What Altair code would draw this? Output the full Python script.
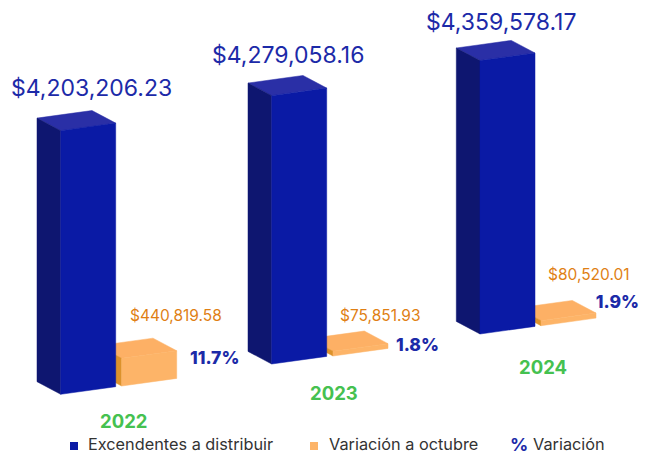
import altair as alt
import pandas as pd

years = ["2022", "2023", "2024"]
excedentes = [4203206.23, 4279058.16, 4359578.17]
variacion = [440819.58, 75851.93, 80520.01]
porcentaje = ["11.7%", "1.8%", "1.9%"]
etiq_exc = ["$4,203,206.23", "$4,279,058.16", "$4,359,578.17"]
etiq_var = ["$440,819.58", "$75,851.93", "$80,520.01"]

W, H = 632, 447
K = 62.71e-6  # px per peso
FONT = "Inter"

def yv(py):
    return (455 - py) / K

# footprint per year: front-bottom corner of each prism (page px)
blue_front = [(60.7, 394.3), (271.7, 364.0), (480.0, 334.0)]
or_front = [(121.7, 386.0), (333.0, 356.0), (541.0, 325.7)]
D1 = (23.7, 12.6)
D2 = (55.0, -7.6)

C = {"bf": "#0a1aa5", "bs": "#0e1670", "bt": "#2a2fa6",
     "of": "#fdb468", "os": "#dc922c", "ot": "#fdb065"}

xs = alt.Scale(domain=[8, 8 + W], range=[0, W], nice=False, zero=False)
ys = alt.Scale(domain=[0, H / K], range=[H, 0], nice=False, zero=False)


def face(xv, lo, hi, color):
    df = pd.DataFrame(dict(px=xv, lo=lo, hi=hi))
    return alt.Chart(df).mark_area(color=color, stroke=color, strokeWidth=0.5, orient="vertical",
                                   interpolate="linear", opacity=1).encode(
        x=alt.X("px:Q", scale=xs, axis=None),
        y=alt.Y("lo:Q", scale=ys, axis=None, stack=None),
        y2=alt.Y2("hi"),
    )


def prism(fx, fy, value, front, side, top):
    h = value * K
    lx, ly = fx - D1[0], fy - D1[1]
    rx, ry = fx + D2[0], fy + D2[1]
    L = (lx, ly - h)
    F = (fx, fy - h)
    R = (rx, ry - h)
    B = (lx + D2[0], ly + D2[1] - h)
    def up(x):
        return L[1] + (B[1] - L[1]) * (x - L[0]) / (B[0] - L[0]) if x <= B[0] else B[1] + (R[1] - B[1]) * (x - B[0]) / (R[0] - B[0])
    def low(x):
        return L[1] + (F[1] - L[1]) * (x - L[0]) / (F[0] - L[0]) if x <= F[0] else F[1] + (R[1] - F[1]) * (x - F[0]) / (R[0] - F[0])
    xv = sorted([L[0], F[0], B[0], R[0]])
    return [
        face(xv, [yv(low(x)) for x in xv], [yv(up(x)) for x in xv], top),
        face([lx, fx], [yv(ly), yv(fy)], [yv(ly - h), yv(fy - h)], side),
        face([fx, rx], [yv(fy), yv(ry)], [yv(fy - h), yv(ry - h)], front),
    ]


layers = []
for i in range(3):
    layers += prism(*or_front[i], variacion[i], C["of"], C["os"], C["ot"])
for i in range(3):
    layers += prism(*blue_front[i], excedentes[i], C["bf"], C["bs"], C["bt"])


def texts(xp, yp, labels, color, size, weight=400, align="left"):
    df = pd.DataFrame(dict(px=xp, py=[yv(p) for p in yp], t=labels))
    return alt.Chart(df).mark_text(font=FONT, fontSize=size, fontWeight=weight, color=color,
                                   align=align, baseline="middle").encode(
        x=alt.X("px:Q", scale=xs, axis=None),
        y=alt.Y("py:Q", scale=ys, axis=None),
        text="t:N",
    )


leg = pd.DataFrame(dict(px=[74.0, 314.0], py=[yv(446), yv(446)], c=[C["bf"], C["of"]]))
squares = alt.Chart(leg).mark_square(size=64, opacity=1).encode(
    x=alt.X("px:Q", scale=xs, axis=None),
    y=alt.Y("py:Q", scale=ys, axis=None),
    color=alt.Color("c:N", scale=None),
)

chart = alt.layer(
    *layers,
    texts([11, 212, 426], [89, 55.5, 22.5], etiq_exc, "#1c2aa8", 23),
    texts([130, 340, 548], [316, 316, 275], etiq_var, "#e07f14", 15.5),
    texts([190, 396], [359, 346], porcentaje[:2], "#1c2aa8", 17.5, 800),
    texts([639], [303], porcentaje[2:], "#1c2aa8", 17.5, 800, "right"),
    texts([100, 310, 519], [422, 394, 368], years, "#45c150", 18.5, 700),
    texts([88, 329, 533], [445, 445, 445], ["Excendentes a distribuir", "Variación a octubre", "Variación"], "#333333", 16.3),
    texts([510], [446], ["%"], "#1c2aa8", 18, 700),
    squares,
).properties(width=W, height=H, padding=0, autosize=alt.AutoSizeParams(type="none")).configure_view(stroke=None)

chart.save("out.html", embed_options={"renderer": "svg", "actions": False})
